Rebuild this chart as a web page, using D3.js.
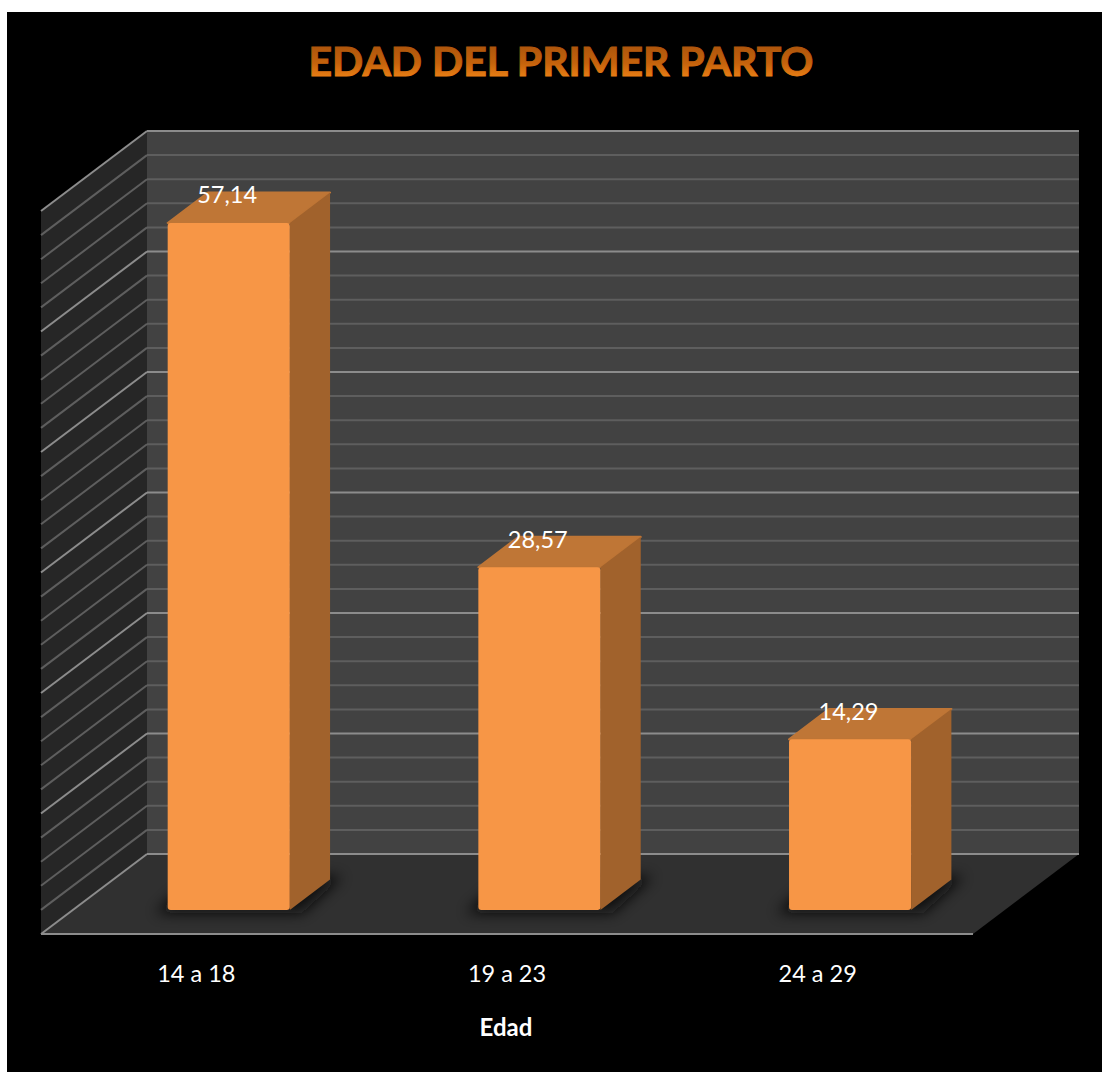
<!doctype html>
<html lang="es">
<head>
    <meta charset="utf-8">
    <title>Edad del primer parto</title>
    <script src="https://cdnjs.cloudflare.com/ajax/libs/d3/7.8.5/d3.min.js"></script>
    <style>
        html, body { margin: 0; padding: 0; background: #fff; }
        svg { display: block; }
        text { font-family: Lato, "Open Sans", sans-serif; }
        .cat-axis text { fill: #fff; font-size: 23.5px; }
        .value { fill: #fff; font-size: 23.5px; text-anchor: middle; }
    </style>
</head>
<body>
    <div id="chart"></div>
    <script>
        var categories = ["14 a 18", "19 a 23", "24 a 29"];
        var values = [57.14, 28.57, 14.29];
        var yTicks = [0, 2, 4, 6, 8, 10, 12, 14, 16, 18, 20, 22, 24, 26, 28, 30, 32, 34, 36, 38, 40, 42, 44, 46, 48, 50, 52, 54, 56, 58, 60];
        var chartTitle = "EDAD DEL PRIMER PARTO";
        var axisTitle = "Edad";

        var width = 1102, height = 1072;

        // floor corners: front edge runs 41..973 at y 934, the back wall is pushed by depth
        var depthX = 106, depthY = 80;
        var frontLeft = 41, frontRight = 973, floorFront = 934;
        var wallTop = 131;
        var barDepthStart = 0.30, barDepthEnd = 0.68;
        var barLift = 1.5;
        var barNudge = 0.6;

        var svg = d3.select("#chart").append("svg")
            .attr("width", width)
            .attr("height", height);

        var defs = svg.append("defs");

        var titleGrad = defs.append("linearGradient")
            .attr("id", "titleGrad")
            .attr("x1", 0).attr("x2", 0).attr("y1", 0).attr("y2", 1);
        titleGrad.append("stop").attr("offset", "15%").attr("stop-color", "#a9530c");
        titleGrad.append("stop").attr("offset", "55%").attr("stop-color", "#c4620c");
        titleGrad.append("stop").attr("offset", "85%").attr("stop-color", "#ea7f14");

        defs.append("filter").attr("id", "barShadow")
            .attr("x", "-30%").attr("y", "-60%").attr("width", "160%").attr("height", "220%")
            .append("feGaussianBlur").attr("stdDeviation", 7);

        // page background
        svg.append("rect")
            .attr("x", 7).attr("y", 12)
            .attr("width", width - 7).attr("height", height - 12)
            .attr("fill", "#000");

        var x = d3.scaleBand()
            .domain(categories)
            .range([frontLeft, frontRight])
            .paddingInner(0.607)
            .paddingOuter(0.3035);

        var y = d3.scaleLinear()
            .domain([0, 60])
            .range([floorFront - depthY, wallTop]);

        function px(xVal, d) { return xVal + depthX * d; }
        function py(v, d) { return y(v) + depthY * (1 - d); }
        function barY(v, d) { return v === 0 ? py(0, d) : py(v, d) + barLift; }
        function barLeft(d) { return x(d) + barNudge; }
        function pts(list) {
            return list.map(function(p) { return p[0] + "," + p[1]; }).join(" ");
        }

        var yMax = d3.max(yTicks);
        var wallLeft = px(frontLeft, 1), wallRight = px(frontRight, 1);

        // walls and floor
        var room = svg.append("g").attr("class", "room");
        room.append("polygon")
            .attr("points", pts([[wallLeft, y(0)], [wallRight, y(0)], [wallRight, y(yMax)], [wallLeft, y(yMax)]]))
            .attr("fill", "#424242");
        room.append("polygon")
            .attr("points", pts([[px(frontLeft, 0), py(0, 0)], [wallLeft, y(0)], [wallLeft, y(yMax)], [px(frontLeft, 0), py(yMax, 0)]]))
            .attr("fill", "#262626");
        room.append("polygon")
            .attr("points", pts([[px(frontLeft, 0), py(0, 0)], [px(frontRight, 0), py(0, 0)], [wallRight, y(0)], [wallLeft, y(0)]]))
            .attr("fill", "#303030");

        // gridlines, every fifth is a major one
        var grid = room.selectAll("g.tick-line")
            .data(yTicks)
            .enter()
            .append("g")
            .attr("class", "tick-line")
            .attr("fill", "none")
            .attr("stroke", function(d) { return d % 10 === 0 ? "#8c8c8c" : "#5e5e5e"; })
            .attr("stroke-width", 2);

        grid.append("line")
            .attr("x1", wallLeft).attr("x2", wallRight)
            .attr("y1", function(d) { return y(d); })
            .attr("y2", function(d) { return y(d); });

        grid.append("line")
            .attr("x1", px(frontLeft, 0)).attr("x2", wallLeft)
            .attr("y1", function(d) { return py(d, 0); })
            .attr("y2", function(d) { return y(d); });

        // floor edges
        room.append("line")
            .attr("x1", px(frontLeft, 0)).attr("x2", px(frontRight, 0))
            .attr("y1", py(0, 0)).attr("y2", py(0, 0))
            .attr("stroke", "#8c8c8c").attr("stroke-width", 2);

        // bars
        var bars = svg.selectAll("g.bar")
            .data(categories)
            .enter()
            .append("g")
            .attr("class", "bar");

        bars.append("polygon")
            .attr("filter", "url(#barShadow)")
            .attr("fill", "#0c0c0c")
            .attr("opacity", 0.9)
            .attr("points", function(d) {
                var l = barLeft(d) - 12, r = barLeft(d) + x.bandwidth() + 12;
                return pts([[px(l, barDepthStart), py(0, barDepthStart) + 3],
                    [px(r, barDepthStart), py(0, barDepthStart) + 3],
                    [px(r, barDepthEnd), py(0, barDepthEnd) - 3],
                    [px(l, barDepthEnd), py(0, barDepthEnd) - 3]]);
            });

        // top face
        bars.append("polygon")
            .attr("fill", "#bf7636")
            .attr("stroke", "#bf7636")
            .attr("stroke-width", 2)
            .attr("stroke-linejoin", "round")
            .attr("points", function(d, i) {
                var l = barLeft(d), r = l + x.bandwidth();
                return pts([[px(l, barDepthStart), barY(values[i], barDepthStart)],
                    [px(r, barDepthStart), barY(values[i], barDepthStart)],
                    [px(r, barDepthEnd), barY(values[i], barDepthEnd)],
                    [px(l, barDepthEnd), barY(values[i], barDepthEnd)]]);
            });

        // side face
        bars.append("polygon")
            .attr("fill", "#a1622c")
            .attr("points", function(d, i) {
                var r = barLeft(d) + x.bandwidth();
                return pts([[px(r, barDepthStart), py(0, barDepthStart)],
                    [px(r, barDepthEnd), py(0, barDepthEnd)],
                    [px(r, barDepthEnd), barY(values[i], barDepthEnd)],
                    [px(r, barDepthStart), barY(values[i], barDepthStart)]]);
            });

        // front face
        bars.append("rect")
            .attr("x", function(d) { return px(barLeft(d), barDepthStart); })
            .attr("y", function(d, i) { return barY(values[i], barDepthStart); })
            .attr("width", x.bandwidth())
            .attr("height", function(d, i) { return py(0, barDepthStart) - barY(values[i], barDepthStart); })
            .attr("rx", 3)
            .attr("fill", "#f79646");

        // value labels sit on the top face
        bars.append("text")
            .attr("class", "value")
            .attr("x", function(d) { return px(x(d) + x.bandwidth() / 2, barDepthStart) - 1; })
            .attr("y", function(d, i) { return py(values[i], barDepthStart) - 18; })
            .text(function(d, i) { return values[i].toFixed(2).replace(".", ","); });

        // category axis
        var catAxis = d3.axisBottom(x).tickSize(0).tickPadding(0);
        svg.append("g")
            .attr("class", "cat-axis")
            .attr("transform", "translate(0," + (floorFront + 31) + ")")
            .call(catAxis)
            .call(function(g) { g.select(".domain").remove(); })
            .selectAll("text")
            .attr("font-family", null)
            .attr("font-size", null);

        svg.append("text")
            .attr("x", 506).attr("y", 1036)
            .attr("text-anchor", "middle")
            .attr("fill", "#fff")
            .attr("font-size", 24)
            .attr("font-weight", 700)
            .text(axisTitle);

        svg.append("text")
            .attr("x", 561).attr("y", 76)
            .attr("text-anchor", "middle")
            .attr("fill", "url(#titleGrad)")
            .attr("stroke", "url(#titleGrad)")
            .attr("stroke-width", 1)
            .attr("font-size", 41)
            .attr("font-weight", 700)
            .text(chartTitle);
    </script>
</body>
</html>
